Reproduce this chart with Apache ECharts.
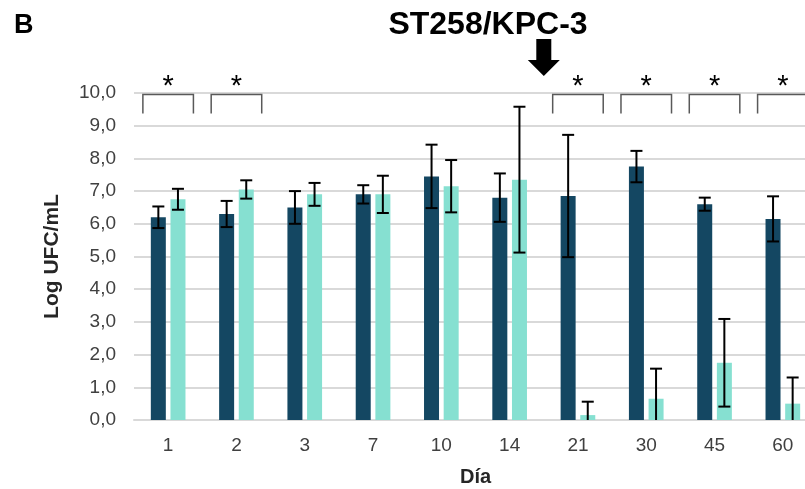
<!DOCTYPE html>
<html>
<head>
<meta charset="utf-8">
<script src="https://cdn.jsdelivr.net/npm/echarts@6/dist/echarts.min.js"></script>
<style>
  html, body { margin: 0; padding: 0; background: #fff; }
  #chart { width: 805px; height: 489px; }
</style>
</head>
<body>
<div id="chart"></div>
<script>
// data
const days = ["1", "2", "3", "7", "10", "14", "21", "30", "45", "60"];
const darkMean = [6.2, 6.3, 6.5, 6.9, 7.45, 6.8, 6.85, 7.75, 6.6, 6.15];
const darkErr = [0.33, 0.4, 0.5, 0.28, 0.97, 0.74, 1.87, 0.48, 0.2, 0.69];
const lightMean = [6.75, 7.05, 6.9, 6.9, 7.15, 7.35, 0.15, 0.65, 1.75, 0.5];
const lightErr = [0.32, 0.28, 0.35, 0.57, 0.8, 2.23, 0.41, 0.92, 1.34, 0.8];
const significant = [1, 1, 0, 0, 0, 0, 1, 1, 1, 1];
const yTicks = [0, 1, 2, 3, 4, 5, 6, 7, 8, 9, 10];

const FONT = "Liberation Sans";
const DARK = "#144762";
const LIGHT = "#86e0d1";
const BAR_W = 15;
const PAIR_OFF = 9.8; // half distance between the two bar centres

function errorData(means, errs) {
  return means.map((m, i) => [i, m, errs[i]]);
}

function errorRenderer(offset) {
  return function (params, api) {
    const i = api.value(0);
    const m = api.value(1);
    const e = api.value(2);
    const x = api.coord([i, 0])[0] + offset;
    const yTop = api.coord([i, m + e])[1];
    const low = m - e;
    const yBot = api.coord([i, Math.max(0, low)])[1];
    const style = { stroke: "#000", lineWidth: 2 };
    const children = [
      { type: "line", shape: { x1: x, y1: yTop, x2: x, y2: yBot }, style },
      { type: "line", shape: { x1: x - 6, y1: yTop, x2: x + 6, y2: yTop }, style }
    ];
    if (low > 0) {
      children.push({ type: "line", shape: { x1: x - 6, y1: yBot, x2: x + 6, y2: yBot }, style });
    }
    return { type: "group", children };
  };
}

const bracketData = [];
significant.forEach((s, i) => {
  if (s) bracketData.push([i, yTicks[yTicks.length - 1]]);
});

const chart = echarts.init(document.getElementById("chart"));
const option = {
  animation: false,
  backgroundColor: "#fff",
  textStyle: { fontFamily: FONT },
  grid: { left: 134, top: 93, width: 683, height: 327, outerBoundsMode: "none", containLabel: false },
  xAxis: {
    type: "category",
    data: days,
    axisTick: { show: false },
    axisLine: { lineStyle: { color: "#d9d9d9", width: 2 } },
    axisLabel: { color: "#404040", fontSize: 19, margin: 16, fontFamily: FONT },
    name: "Día",
    nameLocation: "middle",
    nameGap: 47,
    nameTextStyle: { fontSize: 20, fontWeight: "bold", color: "#262626", fontFamily: FONT }
  },
  yAxis: {
    type: "value",
    min: 0,
    max: 10,
    interval: 1,
    axisLine: { show: false },
    axisTick: { show: false },
    axisLabel: {
      color: "#404040",
      fontSize: 19,
      margin: 18,
      fontFamily: FONT,
      formatter: (v) => v.toFixed(1).replace(".", ",")
    },
    splitLine: { lineStyle: { color: "#d9d9d9", width: 2 } },
    name: "Log UFC/mL",
    nameLocation: "middle",
    nameGap: 71,
    nameTextStyle: { fontSize: 21, fontWeight: "bold", color: "#262626", fontFamily: FONT }
  },
  series: [
    {
      name: "A",
      type: "bar",
      data: darkMean,
      barWidth: BAR_W,
      barGap: "31%",
      itemStyle: { color: DARK }
    },
    {
      name: "B",
      type: "bar",
      data: lightMean,
      barWidth: BAR_W,
      itemStyle: { color: LIGHT }
    },
    {
      type: "custom",
      data: errorData(darkMean, darkErr),
      renderItem: errorRenderer(-PAIR_OFF),
      z: 5
    },
    {
      type: "custom",
      data: errorData(lightMean, lightErr),
      renderItem: errorRenderer(PAIR_OFF),
      z: 5
    },
    {
      // significance brackets with asterisks
      type: "custom",
      data: bracketData,
      clip: false,
      z: 6,
      renderItem: function (params, api) {
        const c = api.coord([api.value(0), api.value(1)]);
        const half = api.size([1, 0])[0] * 0.37;
        const y0 = c[1] + 1.5;
        return {
          type: "group",
          children: [
            {
              type: "polyline",
              shape: { points: [[c[0] - half, y0 + 19], [c[0] - half, y0], [c[0] + half, y0], [c[0] + half, y0 + 19]] },
              style: { stroke: "#595959", lineWidth: 1.5, fill: null }
            },
            {
              type: "text",
              style: {
                text: "*",
                x: c[0],
                y: y0 - 8,
                align: "center",
                verticalAlign: "middle",
                font: "29px " + FONT,
                fill: "#000"
              }
            }
          ]
        };
      }
    }
  ]
};
chart.setOption(option);

// arrow between day 14 and day 21, title and panel letter
const xa = chart.convertToPixel({ xAxisIndex: 0 }, 5);
const xb = chart.convertToPixel({ xAxisIndex: 0 }, 6);
const ax = (xa + xb) / 2;
chart.setOption({
  graphic: [
    {
      type: "polygon",
      shape: {
        points: [
          [ax - 7.5, 39], [ax + 7.5, 39], [ax + 7.5, 60], [ax + 16, 60],
          [ax, 76], [ax - 16, 60], [ax - 7.5, 60]
        ]
      },
      style: { fill: "#000" }
    },
    {
      type: "text",
      x: 488,
      y: 25,
      style: {
        text: "ST258/KPC-3",
        font: "bold 32px " + FONT,
        fill: "#000",
        align: "center",
        verticalAlign: "middle"
      }
    },
    {
      type: "text",
      x: 14,
      y: 26,
      style: {
        text: "B",
        font: "bold 27px " + FONT,
        fill: "#000",
        align: "left",
        verticalAlign: "middle"
      }
    }
  ]
});

window.addEventListener("resize", function () {
  chart.resize();
});
</script>
</body>
</html>
